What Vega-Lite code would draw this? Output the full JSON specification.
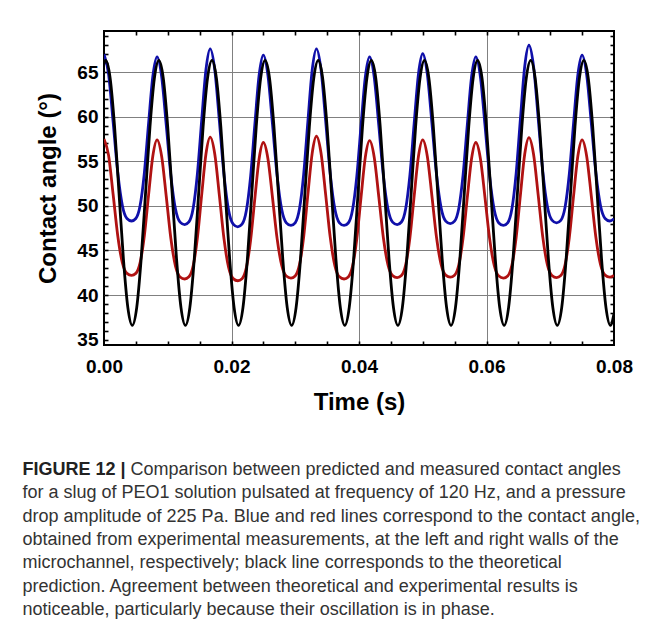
{
  "$schema": "https://vega.github.io/schema/vega-lite/v6.json",
  "background": "white",
  "padding": {"left": 22, "top": 29, "right": 0, "bottom": 0},
  "config": {
    "font": "Liberation Sans",
    "axis": {"labelFont": "Liberation Sans", "titleFont": "Liberation Sans", "labelColor": "black", "titleColor": "black", "tickColor": "black"}
  },
  "spacing": 43,
  "vconcat": [
    {
      "width": 510,
      "height": 314,
      "view": {"stroke": "black", "strokeWidth": 2},
      "resolve": {"axis": {"x": "independent", "y": "independent"}},
      "layer": [
        {
          "data": {"values": [
            {"t":0,"v":67.0},{"t":0.000714,"v":64.77},{"t":0.001434,"v":59.39},{"t":0.002157,"v":53.74},{"t":0.002879,"v":50.04},{"t":0.003599,"v":48.58},{"t":0.004321,"v":48.3},{"t":0.004988,"v":48.58},{"t":0.005657,"v":50.01},{"t":0.006323,"v":53.65},{"t":0.00699,"v":59.21},{"t":0.007659,"v":64.51},
            {"t":0.008325,"v":66.7},{"t":0.009047,"v":64.46},{"t":0.009767,"v":59.05},{"t":0.01049,"v":53.37},{"t":0.011212,"v":49.65},{"t":0.011932,"v":48.18},{"t":0.012654,"v":47.9},{"t":0.013321,"v":48.2},{"t":0.01399,"v":49.73},{"t":0.014656,"v":53.63},{"t":0.015323,"v":59.58},{"t":0.015992,"v":65.26},
            {"t":0.016659,"v":67.6},{"t":0.017381,"v":65.23},{"t":0.018101,"v":59.48},{"t":0.018824,"v":53.46},{"t":0.019546,"v":49.51},{"t":0.020266,"v":47.95},{"t":0.020988,"v":47.65},{"t":0.021655,"v":47.94},{"t":0.022324,"v":49.44},{"t":0.02299,"v":53.25},{"t":0.023657,"v":59.07},{"t":0.024326,"v":64.61},
            {"t":0.024992,"v":66.9},{"t":0.025714,"v":64.63},{"t":0.026434,"v":59.13},{"t":0.027157,"v":53.36},{"t":0.027879,"v":49.58},{"t":0.028599,"v":48.09},{"t":0.029321,"v":47.8},{"t":0.029988,"v":48.1},{"t":0.030657,"v":49.64},{"t":0.031323,"v":53.56},{"t":0.03199,"v":59.54},{"t":0.032659,"v":65.24},
            {"t":0.033325,"v":67.6},{"t":0.034047,"v":65.24},{"t":0.034767,"v":59.54},{"t":0.03549,"v":53.56},{"t":0.036212,"v":49.64},{"t":0.036932,"v":48.1},{"t":0.037654,"v":47.8},{"t":0.038321,"v":48.08},{"t":0.03899,"v":49.56},{"t":0.039656,"v":53.3},{"t":0.040323,"v":59.01},{"t":0.040992,"v":64.45},
            {"t":0.041659,"v":66.7},{"t":0.042381,"v":64.46},{"t":0.043101,"v":59.05},{"t":0.043824,"v":53.37},{"t":0.044546,"v":49.65},{"t":0.045266,"v":48.18},{"t":0.045988,"v":47.9},{"t":0.046655,"v":48.19},{"t":0.047324,"v":49.68},{"t":0.04799,"v":53.47},{"t":0.048657,"v":59.26},{"t":0.049326,"v":64.77},
            {"t":0.049992,"v":67.05},{"t":0.050714,"v":64.78},{"t":0.051434,"v":59.3},{"t":0.052157,"v":53.54},{"t":0.052879,"v":49.77},{"t":0.053599,"v":48.29},{"t":0.054321,"v":48.0},{"t":0.054988,"v":48.28},{"t":0.055657,"v":49.74},{"t":0.056323,"v":53.44},{"t":0.05699,"v":59.09},{"t":0.057659,"v":64.47},
            {"t":0.058325,"v":66.7},{"t":0.059047,"v":64.45},{"t":0.059767,"v":59.01},{"t":0.06049,"v":53.3},{"t":0.061212,"v":49.56},{"t":0.061932,"v":48.08},{"t":0.062654,"v":47.8},{"t":0.063321,"v":48.1},{"t":0.06399,"v":49.68},{"t":0.064656,"v":53.68},{"t":0.065323,"v":59.78},{"t":0.065992,"v":65.6},
            {"t":0.066659,"v":68.0},{"t":0.067381,"v":65.63},{"t":0.068101,"v":59.9},{"t":0.068824,"v":53.89},{"t":0.069546,"v":49.95},{"t":0.070266,"v":48.4},{"t":0.070988,"v":48.1},{"t":0.071655,"v":48.38},{"t":0.072324,"v":49.85},{"t":0.07299,"v":53.57},{"t":0.073657,"v":59.25},{"t":0.074326,"v":64.66},
            {"t":0.074992,"v":66.9},{"t":0.075714,"v":64.69},{"t":0.076434,"v":59.33},{"t":0.077157,"v":53.71},{"t":0.077879,"v":50.03},{"t":0.078599,"v":48.58},{"t":0.079321,"v":48.3},{"t":0.08,"v":48.55}
          ]},
          "mark": {"type": "line", "color": "#1010aa", "strokeWidth": 2.8, "interpolate": "monotone", "clip": true},
          "encoding": {
            "x": {"field": "t", "type": "quantitative", "scale": {"domain": [0, 0.08], "nice": false, "zero": false},
                  "axis": {"orient": "top", "values": [0.005,0.01,0.015,0.02,0.025,0.03,0.035,0.04,0.045,0.05,0.055,0.06,0.065,0.07,0.075], "tickSize": -4, "tickWidth": 1.6, "labels": false, "domain": false, "grid": false, "title": null}},
            "y": {"field": "v", "type": "quantitative", "scale": {"domain": [34.4, 69.6], "nice": false, "zero": false},
                  "axis": {"orient": "right", "values": [35,36,37,38,39,40,41,42,43,44,45,46,47,48,49,50,51,52,53,54,55,56,57,58,59,60,61,62,63,64,65,66,67,68,69], "tickSize": -4, "tickWidth": 1.6, "labels": false, "domain": false, "grid": false, "title": null}}
          }
        },
        {
          "data": {"values": [
            {"t":0,"v":57.5},{"t":0.000714,"v":55.68},{"t":0.001434,"v":51.27},{"t":0.002157,"v":46.65},{"t":0.002879,"v":43.62},{"t":0.003599,"v":42.43},{"t":0.004321,"v":42.2},{"t":0.004988,"v":42.43},{"t":0.005657,"v":43.61},{"t":0.006323,"v":46.62},{"t":0.00699,"v":51.21},{"t":0.007659,"v":55.59},
            {"t":0.008325,"v":57.4},{"t":0.009047,"v":55.54},{"t":0.009767,"v":51.05},{"t":0.01049,"v":46.34},{"t":0.011212,"v":43.25},{"t":0.011932,"v":42.03},{"t":0.012654,"v":41.8},{"t":0.013321,"v":42.04},{"t":0.01399,"v":43.28},{"t":0.014656,"v":46.43},{"t":0.015323,"v":51.23},{"t":0.015992,"v":55.81},
            {"t":0.016659,"v":57.7},{"t":0.017381,"v":55.78},{"t":0.018101,"v":51.15},{"t":0.018824,"v":46.29},{"t":0.019546,"v":43.1},{"t":0.020266,"v":41.84},{"t":0.020988,"v":41.6},{"t":0.021655,"v":41.83},{"t":0.022324,"v":43.04},{"t":0.02299,"v":46.11},{"t":0.023657,"v":50.79},{"t":0.024326,"v":55.26},
            {"t":0.024992,"v":57.1},{"t":0.025714,"v":55.29},{"t":0.026434,"v":50.91},{"t":0.027157,"v":46.32},{"t":0.027879,"v":43.31},{"t":0.028599,"v":42.13},{"t":0.029321,"v":41.9},{"t":0.029988,"v":42.14},{"t":0.030657,"v":43.38},{"t":0.031323,"v":46.53},{"t":0.03199,"v":51.33},{"t":0.032659,"v":55.91},
            {"t":0.033325,"v":57.8},{"t":0.034047,"v":55.9},{"t":0.034767,"v":51.29},{"t":0.03549,"v":46.46},{"t":0.036212,"v":43.29},{"t":0.036932,"v":42.04},{"t":0.037654,"v":41.8},{"t":0.038321,"v":42.03},{"t":0.03899,"v":43.24},{"t":0.039656,"v":46.31},{"t":0.040323,"v":50.99},{"t":0.040992,"v":55.46},
            {"t":0.041659,"v":57.3},{"t":0.042381,"v":55.47},{"t":0.043101,"v":51.05},{"t":0.043824,"v":46.42},{"t":0.044546,"v":43.38},{"t":0.045266,"v":42.18},{"t":0.045988,"v":41.95},{"t":0.046655,"v":42.18},{"t":0.047324,"v":43.39},{"t":0.04799,"v":46.45},{"t":0.048657,"v":51.11},{"t":0.049326,"v":55.56},
            {"t":0.049992,"v":57.4},{"t":0.050714,"v":55.57},{"t":0.051434,"v":51.13},{"t":0.052157,"v":46.48},{"t":0.052879,"v":43.43},{"t":0.053599,"v":42.23},{"t":0.054321,"v":42.0},{"t":0.054988,"v":42.23},{"t":0.055657,"v":43.4},{"t":0.056323,"v":46.39},{"t":0.05699,"v":50.95},{"t":0.057659,"v":55.3},
            {"t":0.058325,"v":57.1},{"t":0.059047,"v":55.29},{"t":0.059767,"v":50.91},{"t":0.06049,"v":46.32},{"t":0.061212,"v":43.31},{"t":0.061932,"v":42.13},{"t":0.062654,"v":41.9},{"t":0.063321,"v":42.14},{"t":0.06399,"v":43.36},{"t":0.064656,"v":46.48},{"t":0.065323,"v":51.24},{"t":0.065992,"v":55.78},
            {"t":0.066659,"v":57.65},{"t":0.067381,"v":55.78},{"t":0.068101,"v":51.26},{"t":0.068824,"v":46.52},{"t":0.069546,"v":43.41},{"t":0.070266,"v":42.19},{"t":0.070988,"v":41.95},{"t":0.071655,"v":42.18},{"t":0.072324,"v":43.39},{"t":0.07299,"v":46.45},{"t":0.073657,"v":51.11},{"t":0.074326,"v":55.56},
            {"t":0.074992,"v":57.4},{"t":0.075714,"v":55.57},{"t":0.076434,"v":51.13},{"t":0.077157,"v":46.48},{"t":0.077879,"v":43.43},{"t":0.078599,"v":42.23},{"t":0.079321,"v":42.0},{"t":0.08,"v":42.2}
          ]},
          "mark": {"type": "line", "color": "#b01212", "strokeWidth": 2.8, "interpolate": "monotone", "clip": true},
          "encoding": {
            "x": {"field": "t", "type": "quantitative", "scale": {"domain": [0, 0.08], "nice": false, "zero": false},
                  "axis": {"orient": "bottom", "values": [0.005,0.01,0.015,0.02,0.025,0.03,0.035,0.04,0.045,0.05,0.055,0.06,0.065,0.07,0.075], "tickSize": -4, "tickWidth": 1.6, "labels": false, "domain": false, "grid": false, "title": null}},
            "y": {"field": "v", "type": "quantitative", "scale": {"domain": [34.4, 69.6], "nice": false, "zero": false},
                  "axis": {"orient": "left", "values": [35,36,37,38,39,40,41,42,43,44,45,46,47,48,49,50,51,52,53,54,55,56,57,58,59,60,61,62,63,64,65,66,67,68,69], "tickSize": -4, "tickWidth": 1.6, "labels": false, "domain": false, "grid": false, "title": null}}
          }
        },
        {
          "data": {"values": [
            {"t":0,"v":65.99},
            {"t":0.00027,"v":66.3},{"t":0.000964,"v":64.31},{"t":0.001659,"v":58.88},{"t":0.002353,"v":51.45},{"t":0.003048,"v":44.03},{"t":0.003742,"v":38.59},{"t":0.004437,"v":36.6},{"t":0.005131,"v":38.59},{"t":0.005826,"v":44.03},{"t":0.00652,"v":51.45},{"t":0.007214,"v":58.88},{"t":0.007909,"v":64.31},
            {"t":0.008603,"v":66.3},{"t":0.009298,"v":64.31},{"t":0.009992,"v":58.88},{"t":0.010687,"v":51.45},{"t":0.011381,"v":44.03},{"t":0.012076,"v":38.59},{"t":0.01277,"v":36.6},{"t":0.013464,"v":38.59},{"t":0.014159,"v":44.03},{"t":0.014853,"v":51.45},{"t":0.015548,"v":58.88},{"t":0.016242,"v":64.31},
            {"t":0.016937,"v":66.3},{"t":0.017631,"v":64.31},{"t":0.018325,"v":58.88},{"t":0.01902,"v":51.45},{"t":0.019714,"v":44.03},{"t":0.020409,"v":38.59},{"t":0.021103,"v":36.6},{"t":0.021798,"v":38.59},{"t":0.022492,"v":44.03},{"t":0.023187,"v":51.45},{"t":0.023881,"v":58.88},{"t":0.024575,"v":64.31},
            {"t":0.02527,"v":66.3},{"t":0.025964,"v":64.31},{"t":0.026659,"v":58.88},{"t":0.027353,"v":51.45},{"t":0.028048,"v":44.03},{"t":0.028742,"v":38.59},{"t":0.029437,"v":36.6},{"t":0.030131,"v":38.59},{"t":0.030825,"v":44.03},{"t":0.03152,"v":51.45},{"t":0.032214,"v":58.88},{"t":0.032909,"v":64.31},
            {"t":0.033603,"v":66.3},{"t":0.034298,"v":64.31},{"t":0.034992,"v":58.88},{"t":0.035687,"v":51.45},{"t":0.036381,"v":44.03},{"t":0.037075,"v":38.59},{"t":0.03777,"v":36.6},{"t":0.038464,"v":38.59},{"t":0.039159,"v":44.03},{"t":0.039853,"v":51.45},{"t":0.040548,"v":58.88},{"t":0.041242,"v":64.31},
            {"t":0.041937,"v":66.3},{"t":0.042631,"v":64.31},{"t":0.043325,"v":58.88},{"t":0.04402,"v":51.45},{"t":0.044714,"v":44.03},{"t":0.045409,"v":38.59},{"t":0.046103,"v":36.6},{"t":0.046798,"v":38.59},{"t":0.047492,"v":44.03},{"t":0.048187,"v":51.45},{"t":0.048881,"v":58.88},{"t":0.049575,"v":64.31},
            {"t":0.05027,"v":66.3},{"t":0.050964,"v":64.31},{"t":0.051659,"v":58.88},{"t":0.052353,"v":51.45},{"t":0.053048,"v":44.03},{"t":0.053742,"v":38.59},{"t":0.054437,"v":36.6},{"t":0.055131,"v":38.59},{"t":0.055825,"v":44.03},{"t":0.05652,"v":51.45},{"t":0.057214,"v":58.88},{"t":0.057909,"v":64.31},
            {"t":0.058603,"v":66.3},{"t":0.059298,"v":64.31},{"t":0.059992,"v":58.88},{"t":0.060687,"v":51.45},{"t":0.061381,"v":44.03},{"t":0.062075,"v":38.59},{"t":0.06277,"v":36.6},{"t":0.063464,"v":38.59},{"t":0.064159,"v":44.03},{"t":0.064853,"v":51.45},{"t":0.065548,"v":58.88},{"t":0.066242,"v":64.31},
            {"t":0.066937,"v":66.3},{"t":0.067631,"v":64.31},{"t":0.068325,"v":58.88},{"t":0.06902,"v":51.45},{"t":0.069714,"v":44.03},{"t":0.070409,"v":38.59},{"t":0.071103,"v":36.6},{"t":0.071798,"v":38.59},{"t":0.072492,"v":44.03},{"t":0.073187,"v":51.45},{"t":0.073881,"v":58.88},{"t":0.074575,"v":64.31},
            {"t":0.07527,"v":66.3},{"t":0.075964,"v":64.31},{"t":0.076659,"v":58.88},{"t":0.077353,"v":51.45},{"t":0.078048,"v":44.03},{"t":0.078742,"v":38.59},{"t":0.079437,"v":36.6},{"t":0.08,"v":37.92}
          ]},
          "mark": {"type": "line", "color": "black", "strokeWidth": 2.8, "interpolate": "monotone", "clip": true},
          "encoding": {
            "x": {"field": "t", "type": "quantitative", "scale": {"domain": [0, 0.08], "nice": false, "zero": false},
                  "axis": {"orient": "bottom", "values": [0, 0.02, 0.04, 0.06, 0.08], "format": ".2f", "ticks": false, "domain": false,
                           "grid": true, "gridColor": "#808080", "gridWidth": 1,
                           "gridOpacity": {"condition": {"test": "datum.value < 0.001 || datum.value > 0.079", "value": 0}, "value": 1},
                           "labelFontSize": 19, "labelFontWeight": "bold", "labelPadding": 12, "labelFlush": false,
                           "title": "Time (s)", "titleFontSize": 24, "titleFontWeight": "bold", "titlePadding": 14}},
            "y": {"field": "v", "type": "quantitative", "scale": {"domain": [34.4, 69.6], "nice": false, "zero": false},
                  "axis": {"orient": "left", "values": [35, 40, 45, 50, 55, 60, 65], "ticks": false, "domain": false,
                           "grid": true, "gridColor": "#808080", "gridWidth": 1,
                           "gridOpacity": {"condition": {"test": "datum.value < 36", "value": 0}, "value": 1},
                           "labelFontSize": 19, "labelFontWeight": "bold", "labelPadding": 6, "labelFlush": false,
                           "title": "Contact angle (°)", "titleFontSize": 24, "titleFontWeight": "bold", "titlePadding": 16}}
          }
        }
      ]
    },
    {
      "width": 510,
      "height": 164,
      "view": {"stroke": null},
      "data": {"values": [
        {"line": 1, "part": "b", "text": "FIGURE 12 |"},
        {"line": 1, "part": "r", "text": "Comparison between predicted and measured contact angles"},
        {"line": 2, "part": "n", "text": "for a slug of PEO1 solution pulsated at frequency of 120 Hz, and a pressure"},
        {"line": 3, "part": "n", "text": "drop amplitude of 225 Pa. Blue and red lines correspond to the contact angle,"},
        {"line": 4, "part": "n", "text": "obtained from experimental measurements, at the left and right walls of the"},
        {"line": 5, "part": "n", "text": "microchannel, respectively; black line corresponds to the theoretical"},
        {"line": 6, "part": "n", "text": "prediction. Agreement between theoretical and experimental results is"},
        {"line": 7, "part": "n", "text": "noticeable, particularly because their oscillation is in phase."}
      ]},
      "encoding": {
        "x": {"datum": 0, "type": "quantitative", "scale": {"domain": [0, 1]}, "axis": null},
        "y": {"field": "line", "type": "ordinal", "scale": {"domain": [1, 2, 3, 4, 5, 6, 7]}, "axis": null},
        "text": {"field": "text"}
      },
      "layer": [
        {"transform": [{"filter": "datum.part === 'b'"}],
         "mark": {"type": "text", "align": "left", "baseline": "middle", "dx": -81.5, "font": "Liberation Sans", "fontSize": 18, "fontWeight": "bold", "color": "#222222"}},
        {"transform": [{"filter": "datum.part === 'r'"}],
         "mark": {"type": "text", "align": "left", "baseline": "middle", "dx": 26.5, "font": "Liberation Sans", "fontSize": 18, "color": "#333333"}},
        {"transform": [{"filter": "datum.part === 'n'"}],
         "mark": {"type": "text", "align": "left", "baseline": "middle", "dx": -81.5, "font": "Liberation Sans", "fontSize": 18, "color": "#333333"}}
      ]
    }
  ]
}
